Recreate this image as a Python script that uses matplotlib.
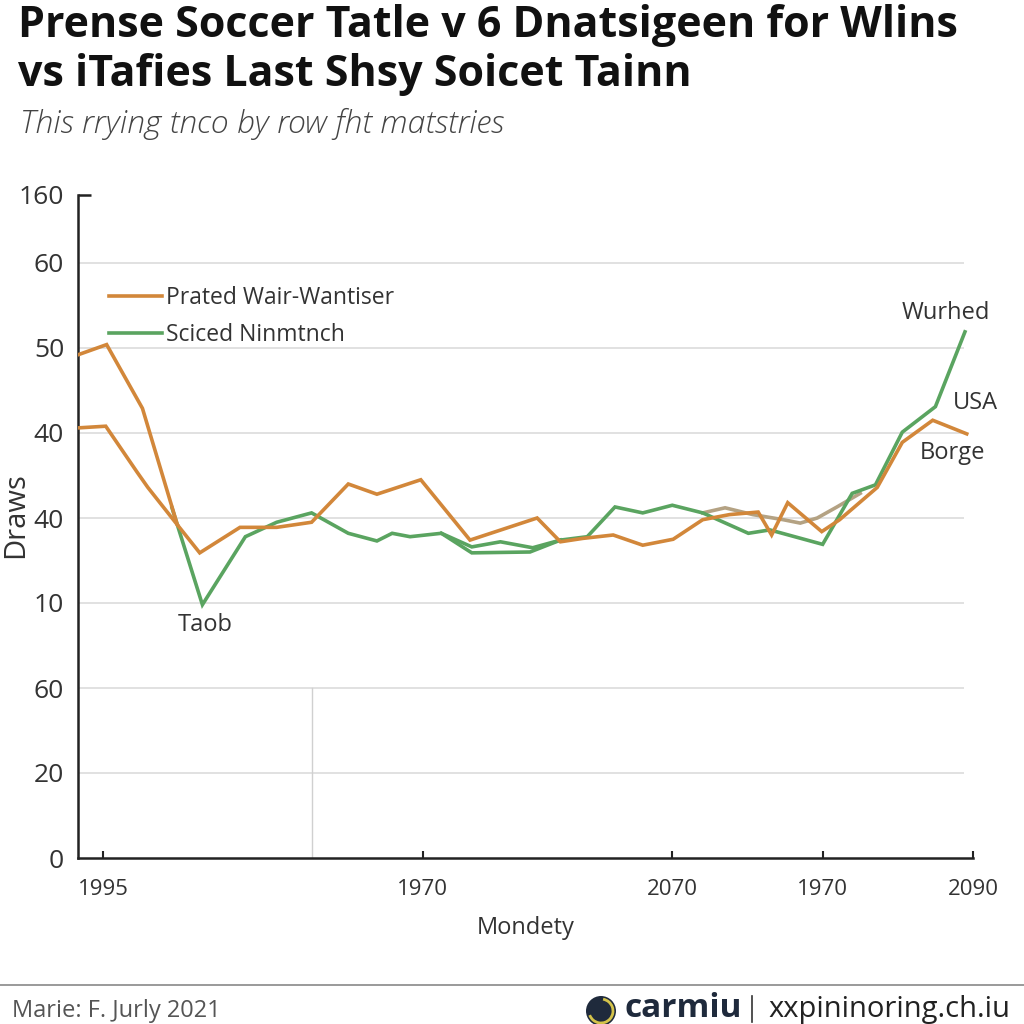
import matplotlib
matplotlib.use("Agg")
import matplotlib.pyplot as plt
from matplotlib.lines import Line2D
from matplotlib.patches import Circle, Arc

plt.rcParams['font.family'] = ['Open Sans', 'DejaVu Sans']

# ---------------- data ----------------
# x in "position" units 0..100 across the axis, y in grid-step units
series_a_x = [0, 3.2, 7.2, 11.1, 13.6, 18.1, 22.2, 26.1, 30.2, 33.4, 38.3, 43.8, 51.3,
              53.9, 56.4, 59.8, 63.1, 66.5, 69.8, 72.8, 76.0, 77.5, 79.3, 83.1, 85.1,
              89.3, 92.1, 95.5, 99.3]
series_a_y = [5.92, 6.04, 5.29, 3.92, 3.59, 3.89, 3.89, 3.95, 4.40, 4.28, 4.45, 3.74, 4.0,
              3.72, 3.76, 3.80, 3.68, 3.75, 3.98, 4.04, 4.07, 3.80, 4.18, 3.84, 3.98,
              4.36, 4.89, 5.15, 4.99]

series_a2_x = [0, 3.1, 6.6, 7.8, 11.1]
series_a2_y = [5.06, 5.08, 4.54, 4.36, 3.92]

series_b_x = [10.5, 13.9, 18.7, 22.2, 26.1, 30.2, 33.4, 35.1, 37.1, 40.6, 44.0, 47.2, 50.8,
              53.9, 56.9, 60.0, 63.1, 66.4, 69.8, 74.9, 77.3, 83.2, 86.5, 89.1, 92.1,
              95.8, 99.1]
series_b_y = [4.12, 2.98, 3.78, 3.95, 4.06, 3.82, 3.73, 3.82, 3.78, 3.82, 3.66, 3.72, 3.65,
              3.74, 3.78, 4.13, 4.06, 4.15, 4.06, 3.82, 3.86, 3.69, 4.29, 4.39, 5.01,
              5.31, 6.19]

series_b2_x = [40.6, 44.0, 50.5, 53.9]
series_b2_y = [3.82, 3.59, 3.60, 3.74]

series_c_x = [69.8, 72.3, 75.4, 78.8, 80.7, 82.6, 84.8, 87.4]
series_c_y = [4.06, 4.12, 4.04, 3.98, 3.94, 4.00, 4.13, 4.29]

ytick_pos = [0, 1, 2, 3, 4, 5, 6, 7, 7.8]
ytick_labels = ['0', '20', '60', '10', '40', '40', '50', '60', '160']
xtick_pos = [2.8, 38.5, 66.4, 83.2, 100]
xtick_labels = ['1995', '1970', '2070', '1970', '2090']
grid_levels = [1, 2, 3, 4, 5, 6, 7]

legend_labels = ['Prated Wair-Wantiser', 'Sciced Ninmtnch']
title_text = "Prense Soccer Tatle v 6 Dnatsigeen for Wlins\nvs iTafies Last Shsy Soicet Tainn"
subtitle_text = "This rrying tnco by row fht matstries"

ORANGE = '#D2873A'
GREEN = '#5AA460'
TAN = '#B4A283'
TXT = '#333333'

# ---------------- figure ----------------
fig = plt.figure(figsize=(10.24, 10.24), dpi=100)
W = H = 1024.0
ax = fig.add_axes([78 / W, 1 - 858 / H, (973 - 78) / W, (858 - 195) / H])
ax.set_xlim(0, 100)
ax.set_ylim(0, 7.8)

for g in grid_levels:
    ax.plot([0, 99], [g, g], color='#dcdcdc', lw=1.2, zorder=1, solid_capstyle='butt')
ax.plot([26.1, 26.1], [0, 2.0], color='#d0d0d0', lw=1.0, zorder=1)

lw = 2.6
ax.plot(series_c_x, series_c_y, color=TAN, lw=lw, zorder=3, solid_joinstyle='miter')
ax.plot(series_b2_x, series_b2_y, color=GREEN, lw=lw, zorder=3, solid_joinstyle='miter')
ax.plot(series_b_x, series_b_y, color=GREEN, lw=lw, zorder=3, solid_joinstyle='miter')
ax.plot(series_a2_x, series_a2_y, color=ORANGE, lw=lw, zorder=4, solid_joinstyle='miter')
ax.plot(series_a_x, series_a_y, color=ORANGE, lw=lw, zorder=4, solid_joinstyle='miter')

for s in ['top', 'right']:
    ax.spines[s].set_visible(False)
for s in ['left', 'bottom']:
    ax.spines[s].set_color('#222222')
    ax.spines[s].set_linewidth(1.8)

ax.yaxis.remove_overlapping_locs = False
ax.set_yticks(ytick_pos)
ax.set_yticklabels(ytick_labels)
ax.tick_params(axis='y', length=0, pad=10, labelsize=19, labelcolor=TXT)
ax.set_yticks([7.8], minor=True)
ax.tick_params(axis='y', which='minor', direction='in', length=9, width=1.8, color='#222222')

ax.set_xticks(xtick_pos)
ax.set_xticklabels(xtick_labels)
ax.tick_params(axis='x', direction='in', length=5, width=1.5, color='#222222',
               pad=15, labelsize=16, labelcolor=TXT)

ax.set_xlabel('Mondety', fontsize=17, color=TXT, labelpad=12)
ax.set_ylabel('Draws', fontsize=21, color=TXT)
ax.yaxis.set_label_coords(-48 / (973 - 78), (858 - 515) / (858 - 195))

handles = [Line2D([], [], color=ORANGE, lw=lw), Line2D([], [], color=GREEN, lw=lw)]
ax.legend(handles, legend_labels, loc='upper left', frameon=False, fontsize=16.5,
          bbox_to_anchor=(109 / W, 1 - 286 / H), bbox_transform=fig.transFigure,
          borderpad=0, borderaxespad=0, handlelength=2.3, handletextpad=0.2,
          labelspacing=0.55, labelcolor=TXT)

ann_fs = 17
fig.text(205 / W, 1 - 625 / H, 'Taob', fontsize=ann_fs, color=TXT, ha='center', va='center')
fig.text(946 / W, 1 - 313 / H, 'Wurhed', fontsize=ann_fs, color=TXT, ha='center', va='center')
fig.text(975 / W, 1 - 403 / H, 'USA', fontsize=ann_fs, color=TXT, ha='center', va='center')
fig.text(953 / W, 1 - 453 / H, 'Borge', fontsize=ann_fs, color=TXT, ha='center', va='center')

# titles
fig.text(18 / W, 1 - 4 / H, title_text, fontsize=31, fontweight='bold', color='#111111',
         ha='left', va='top', linespacing=1.17)
fig.text(20 / W, 1 - 108 / H, subtitle_text, fontsize=23, fontstyle='italic',
         fontweight='light', color='#444444', ha='left', va='top')

# footer
fig.add_artist(Line2D([0, 1], [1 - 985 / H, 1 - 985 / H], color='#9a9a9a', lw=1.4,
                      transform=fig.transFigure))
fig.text(12 / W, 1 - 1017 / H, 'Marie: F. Jurly 2021', fontsize=17, color='#555555',
         ha='left', va='baseline')
fig.add_artist(Circle((601 / W, 1 - 1011 / H), 15 / W, transform=fig.transFigure,
                      facecolor='#1f2a3c', edgecolor='none'))
fig.add_artist(Arc((601 / W, 1 - 1011 / H), 24 / W, 24 / H, theta1=200, theta2=80,
                   transform=fig.transFigure, color='#d4c34a', lw=2))
fig.text(624 / W, 1 - 1017 / H, 'carmiu', fontsize=24, fontweight='bold', color='#1f2a3c',
         ha='left', va='baseline')
fig.add_artist(Line2D([752 / W, 752 / W], [1 - 996 / H, 1 - 1022 / H], color='#333333',
                      lw=1.2, transform=fig.transFigure))
fig.text(768 / W, 1 - 1017 / H, 'xxpininoring.ch.iu', fontsize=21, color='#222222',
         ha='left', va='baseline')

fig.savefig('out.png', dpi=100, facecolor='white')
